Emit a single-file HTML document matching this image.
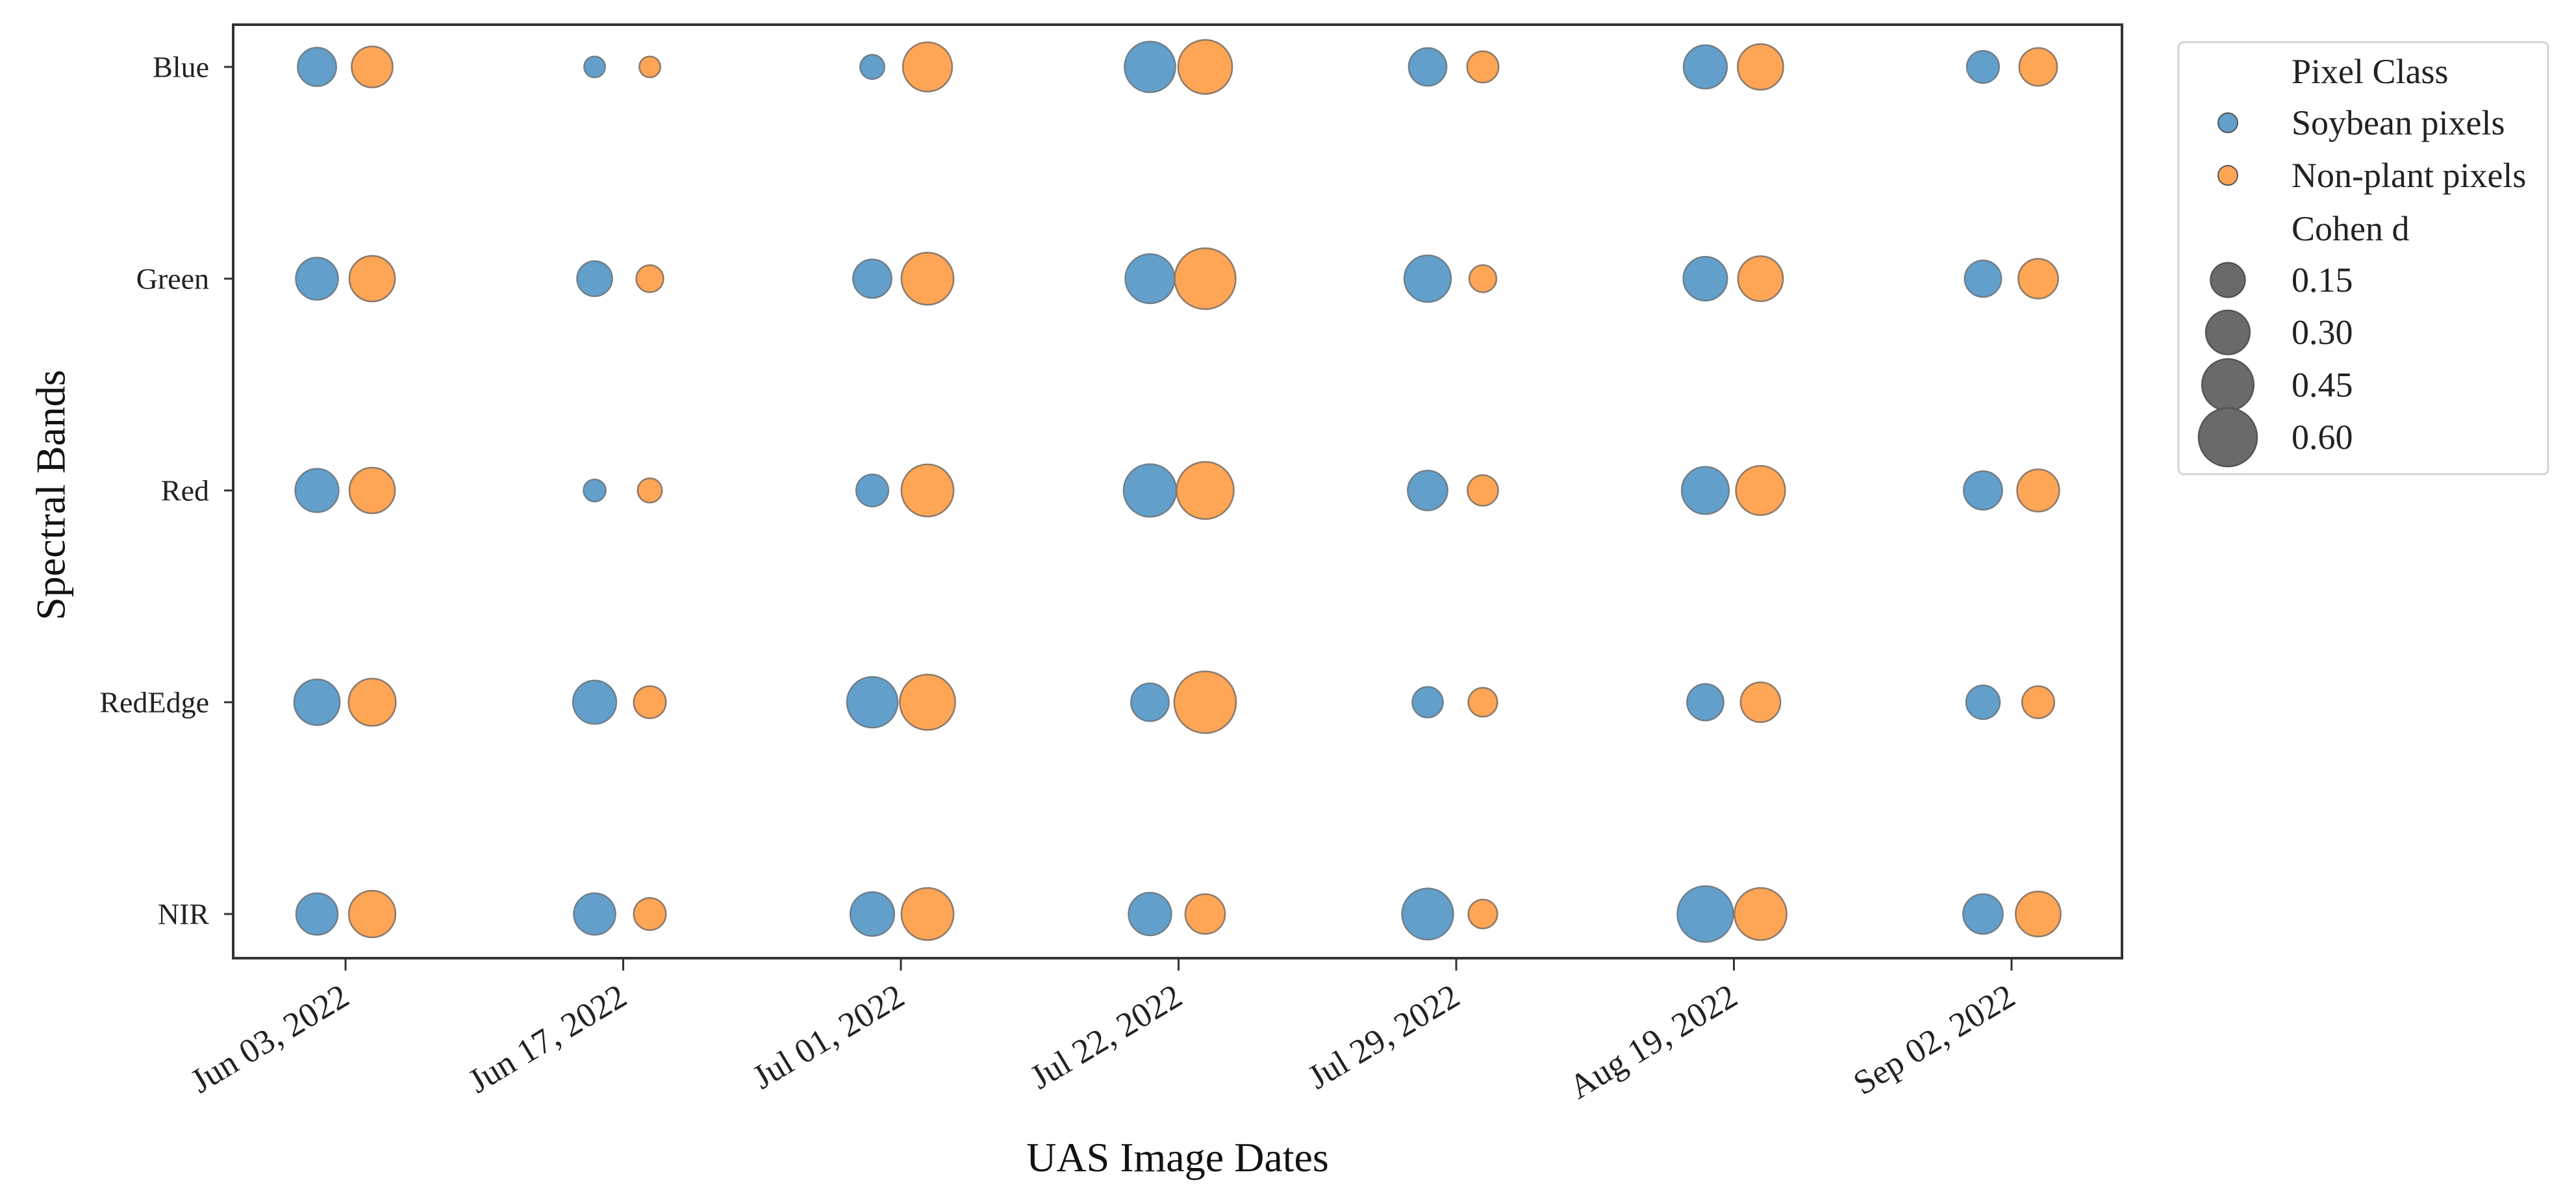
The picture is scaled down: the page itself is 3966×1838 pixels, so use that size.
<!DOCTYPE html>
<html><head><meta charset="utf-8">
<style>
html,body{margin:0;padding:0;background:#fff;}
svg{display:block;font-family:"Liberation Serif","DejaVu Serif",serif;}
</style></head>
<body>
<svg id="chart" width="3966" height="1838" viewBox="0 0 3966 1838" xmlns="http://www.w3.org/2000/svg">
  <rect x="0" y="0" width="3966" height="1838" fill="#fff"/>
  <g id="marks"></g>
  <rect x="359" y="38" width="2908" height="1437" fill="none" stroke="#333" stroke-width="4"/>
  <g id="yaxis"></g>
  <g id="xaxis"></g>
  <text x="78" y="762" font-size="64" fill="#111" text-anchor="middle" transform="rotate(-90 78 762)" dominant-baseline="central">Spectral Bands</text>
  <text x="1813" y="1803" font-size="64" fill="#111" text-anchor="middle">UAS Image Dates</text>
  <g id="legend">
    <rect x="3354" y="65" width="569" height="665" rx="8" fill="#fff" stroke="#d4d4d4" stroke-width="3"/>
  </g>
</svg>
<script>
const dates = ["Jun 03, 2022","Jun 17, 2022","Jul 01, 2022","Jul 22, 2022","Jul 29, 2022","Aug 19, 2022","Sep 02, 2022"];
const bands = ["Blue","Green","Red","RedEdge","NIR"];
// Cohen d per band (rows) x date (cols)
const soybeanBlue    = [0.21,0.00,0.03,0.43,0.20,0.29,0.12];
const soybeanGreen   = [0.27,0.16,0.21,0.40,0.35,0.30,0.18];
const soybeanRed     = [0.29,0.01,0.12,0.47,0.23,0.36,0.21];
const soybeanRedEdge = [0.33,0.29,0.43,0.20,0.10,0.18,0.14];
const soybeanNIR     = [0.26,0.26,0.30,0.28,0.44,0.54,0.23];
const nonplantBlue    = [0.25,0.00,0.40,0.50,0.11,0.33,0.20];
const nonplantGreen   = [0.33,0.06,0.46,0.66,0.06,0.32,0.23];
const nonplantRed     = [0.33,0.03,0.46,0.57,0.10,0.40,0.27];
const nonplantRedEdge = [0.36,0.12,0.53,0.68,0.08,0.23,0.12];
const nonplantNIR     = [0.35,0.12,0.46,0.23,0.08,0.46,0.32];
const legendSizes = [0.15,0.30,0.45,0.60];
const legendLabels = ["0.15","0.30","0.45","0.60"];

const soybean = [soybeanBlue,soybeanGreen,soybeanRed,soybeanRedEdge,soybeanNIR];
const nonplant = [nonplantBlue,nonplantGreen,nonplantRed,nonplantRedEdge,nonplantNIR];
const NS = "http://www.w3.org/2000/svg";
function xPos(i){ return 532 + i*427.5; }
function yPos(j){ return 103 + j*326; }
function radius(v){ return Math.sqrt(1045 + 11758*Math.max(v,0))/2; }
function mk(tag, attrs, parent){ const e=document.createElementNS(NS,tag); for(const k in attrs) e.setAttribute(k,attrs[k]); parent.appendChild(e); return e; }

const marks = document.getElementById('marks');
bands.forEach((b,j)=>{
  dates.forEach((d,i)=>{
    const c1 = mk('circle',{cx:xPos(i)-44,cy:yPos(j),r:radius(soybean[j][i]),fill:'#62a0cb',stroke:'#6f7f8c','stroke-width':2.5},marks);
    
    
    const c2 = mk('circle',{cx:xPos(i)+41,cy:yPos(j),r:radius(nonplant[j][i]),fill:'#ffa556',stroke:'#8c7a6a','stroke-width':2.5},marks);
    
    
  });
});

const yaxis = document.getElementById('yaxis');
bands.forEach((b,j)=>{
  const t = mk('line',{x1:345,x2:359,y1:yPos(j),y2:yPos(j),stroke:'#333','stroke-width':3},yaxis);
  
  
  const l = mk('text',{x:322,y:yPos(j),'font-size':46,fill:'#222','text-anchor':'end','dominant-baseline':'central'},yaxis);
  l.textContent = b;
  
  
});

const xaxis = document.getElementById('xaxis');
dates.forEach((d,i)=>{
  const x = xPos(i);
  const t = mk('line',{x1:x,x2:x,y1:1475,y2:1494,stroke:'#333','stroke-width':3},xaxis);
  
  
  const ax = x-10, ay = 1512;
  const l = mk('text',{x:ax,y:ay,'font-size':53,fill:'#222','text-anchor':'end','dominant-baseline':'hanging',transform:`rotate(-31 ${ax} ${ay})`},xaxis);
  l.textContent = d;
  
  
});

const legend = document.getElementById('legend');
function ltext(x,y,s){
  const e = mk('text',{x:x,y:y,'font-size':54,fill:'#222','dominant-baseline':'central'},legend);
  e.textContent = s;
  return e;
}
let e;
e = ltext(3528,110,'Pixel Class');


e = mk('circle',{cx:3430,cy:189,r:15,fill:'#62a0cb',stroke:'#555','stroke-width':2},legend);


e = ltext(3528,189,'Soybean pixels');


e = mk('circle',{cx:3430,cy:270,r:15,fill:'#ffa556',stroke:'#555','stroke-width':2},legend);


e = ltext(3528,270,'Non-plant pixels');


e = ltext(3528,352,'Cohen d');


legendSizes.forEach((v,k)=>{
  const y = 431 + k*80.7;
  const c = mk('circle',{cx:3430,cy:y,r:radius(v),fill:'#6a6a6a',stroke:'#555','stroke-width':2.5},legend);
  
  
  const t = ltext(3528,y,legendLabels[k]);
  
  
});
</script>
</body></html>
